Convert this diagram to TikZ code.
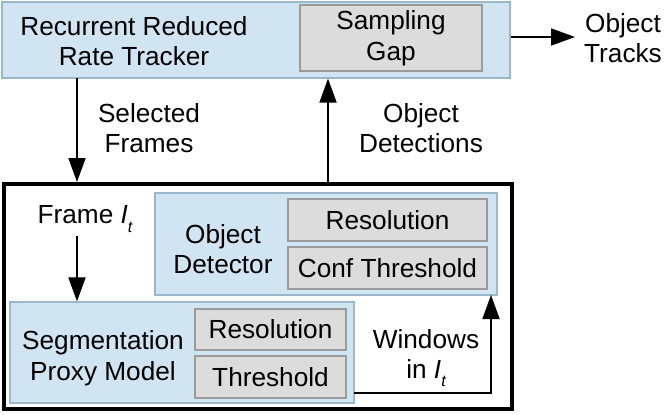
\documentclass[tikz,border=0pt]{standalone}
\usepackage{fontspec}
\setmainfont{Liberation Sans}
\usepackage{xcolor}
\usetikzlibrary{arrows.meta}
\definecolor{modelblue}{HTML}{D0E4F2}
\definecolor{modeledge}{HTML}{9CB6CA}
\definecolor{knobgray}{HTML}{DCDCDC}
\definecolor{knobedge}{HTML}{9A9A9A}
\newcommand{\frameIt}{\textit{I}\raisebox{-0.6ex}{\fontsize{16}{16}\selectfont\itshape t}}

\tikzset{
  model/.style={draw=modeledge, fill=modelblue, line width=1.2pt, inner sep=0pt},
  knob/.style={draw=knobedge, fill=knobgray, line width=1.2pt, inner sep=0pt, align=center},
  txt/.style={align=center, inner sep=0pt},
  flow/.style={line width=1.8pt, -{Triangle[length=24pt, width=17pt]}}
}

\begin{document}
\begin{tikzpicture}[x=1pt, y=-1pt, font=\fontsize{26.2}{30.5}\selectfont]
  \useasboundingbox (0,0) rectangle (664,415);

  % tracker on top
  \node[model, minimum width=508pt, minimum height=76pt] (tracker) at (256,40) {};
  \node[knob, minimum width=182pt, minimum height=66pt] (gap) at (391,38) {Sampling\\Gap};
  \node[txt] (trackname) at (134,41) {Recurrent Reduced\\Rate Tracker};
  \node[txt] (tracks) at (623,38) {Object\\Tracks};

  % reduced-rate pipeline
  \node[draw, line width=4pt, minimum width=508pt, minimum height=225pt, inner sep=0pt] (pipe) at (258,296.5) {};

  \node[model, minimum width=342pt, minimum height=102pt] (detector) at (326,244) {};
  \node[knob, minimum width=199pt, minimum height=42pt] (detres) at (387.5,220) {Resolution};
  \node[knob, minimum width=199pt, minimum height=42pt] (detconf) at (387.5,268) {Conf Threshold};
  \node[txt] (detname) at (223,249) {Object\\Detector};

  \node[model, minimum width=344pt, minimum height=101pt] (proxy) at (182,352.5) {};
  \node[knob, minimum width=151pt, minimum height=41pt] (proxyres) at (270.5,329.5) {Resolution};
  \node[knob, minimum width=151pt, minimum height=42pt] (proxythr) at (270.5,377) {Threshold};
  \node[txt] (proxyname) at (103,358) {Segmentation\\Proxy Model};

  \node[txt] (frame) at (85,219) {Frame \frameIt};

  % flows
  \coordinate (selin) at (77,78);
  \coordinate (detout) at (328,182);
  \coordinate (winout) at (354,393);
  \coordinate (trackout) at (575,37);
  \draw[flow] (tracker.east |- trackout) -- (trackout);
  \draw[flow] (selin) -- (selin |- pipe.north);
  \draw[flow] (detout) -- (detout |- tracker.south);
  \draw[flow] (frame.south -| selin) ++(0,4) -- (selin |- proxy.north);
  \draw[flow] (winout) -| (491,295);

  \node[txt] (selected) at (149,128) {Selected\\Frames};
  \node[txt] (detections) at (421,128) {Object\\Detections};
  \node[txt] (windows) at (426,358) {Windows\\in \frameIt};
\end{tikzpicture}
\end{document}
